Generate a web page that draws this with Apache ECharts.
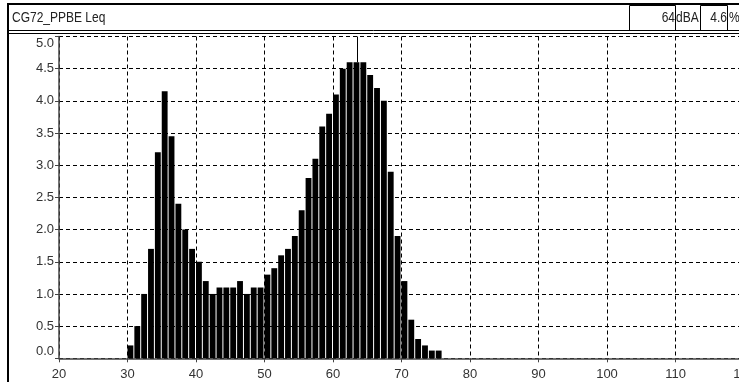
<!DOCTYPE html>
<html>
<head>
<meta charset="utf-8">
<script src="https://cdn.jsdelivr.net/npm/echarts@6/dist/echarts.min.js"></script>
<style>
html,body{margin:0;padding:0;background:#fff;}
#chart{width:739px;height:382px;}
</style>
</head>
<body>
<div id="chart"></div>
<script>
// Histogram bins (dBA, lower edge) and percentages
var binStarts = [30,31,32,33,34,35,36,37,38,39,40,41,42,43,44,45,46,47,48,49,50,51,52,53,54,55,56,57,58,59,60,61,62,63,64,65,66,67,68,69,70,71,72,73,74,75];
var percents  = [0.2,0.5,1.0,1.7,3.2,4.15,3.45,2.4,2.0,1.7,1.5,1.2,1.0,1.1,1.1,1.1,1.2,1.0,1.1,1.1,1.3,1.4,1.6,1.7,1.9,2.3,2.8,3.1,3.6,3.8,4.1,4.5,4.6,4.6,4.6,4.4,4.2,4.0,2.9,1.9,1.2,0.6,0.3,0.2,0.12,0.12];
var xTicks = [20,30,40,50,60,70,80,90,100,110,120];
var yTicks = [0.0,0.5,1.0,1.5,2.0,2.5,3.0,3.5,4.0,4.5,5.0];
var titleText = 'CG72_PPBE Leq';
var markerLevel = 63.5;   // cursor position on the x scale
var markerValue = '64';
var markerUnit = 'dBA';
var markerPct = '4.6';

var FONT = '"Liberation Sans Narrow","Liberation Sans",Arial,sans-serif';
var data = binStarts.map(function(b,i){return [b, percents[i]];});

var chart = echarts.init(document.getElementById('chart'));
chart.setOption({
  animation:false,
  backgroundColor:'#fff',
  grid:{left:59, top:36.5, right:-5, bottom:23.7, containLabel:false, outerBoundsMode:'none'},
  xAxis:{
    type:'value', min:xTicks[0], max:xTicks[xTicks.length-1], interval:10,
    axisLine:{show:true, onZero:false, lineStyle:{color:'#444', width:1.5}},
    axisTick:{show:true, length:4, inside:false, lineStyle:{color:'#444'}},
    axisLabel:{color:'#333', fontFamily:FONT, fontSize:13, margin:10, hideOverlap:false,
      showMaxLabel:true, formatter:function(v){return String(v);}},
    splitLine:{show:true, lineStyle:{color:'#000', type:[4,3], width:1}}
  },
  yAxis:{
    type:'value', min:yTicks[0], max:yTicks[yTicks.length-1], interval:0.5,
    axisLine:{show:true, lineStyle:{color:'#444', width:1.5}},
    axisTick:{show:true, length:4, lineStyle:{color:'#444'}},
    axisLabel:{color:'#333', fontFamily:FONT, fontSize:13, margin:5,
      formatter:function(v){return v.toFixed(1);},
      verticalAlignMaxLabel:'top', verticalAlignMinLabel:'bottom'},
    splitLine:{show:true, lineStyle:{color:'#000', type:[4,3], width:1}}
  },
  series:[{
    type:'custom',
    data:data,
    encode:{x:0, y:1},
    renderItem:function(params, api){
      var x0 = api.value(0), v = api.value(1);
      var p0 = api.coord([x0, 0]);
      var p1 = api.coord([x0 + 1, v]);
      return {type:'rect',
        shape:{x:p0[0], y:p1[1], width:p1[0]-p0[0]-1, height:p0[1]-p1[1]},
        style:{fill:'#000'}};
    },
    markLine:{
      silent:true, symbol:['none','none'], animation:false,
      label:{show:false},
      lineStyle:{color:'#000', width:1, type:'solid'},
      data:[[{coord:[markerLevel, 4.6]},{coord:[markerLevel, 5.0]}]]
    }
  }],
  graphic:[
    {type:'rect', shape:{x:8, y:4, width:740, height:400}, style:{fill:null, stroke:'#000', lineWidth:2}, silent:true},
    {type:'line', shape:{x1:8, y1:30.5, x2:739, y2:30.5}, style:{stroke:'#000', lineWidth:1}},
    {type:'line', shape:{x1:8, y1:33.5, x2:739, y2:33.5}, style:{stroke:'#000', lineWidth:1}},
    {type:'text', x:12, y:18, scaleX:0.8, style:{text:titleText, font:'15px '+FONT, fill:'#222', verticalAlign:'middle'}},
    {type:'rect', shape:{x:629.5, y:5.5, width:46, height:25}, style:{fill:null, stroke:'#000', lineWidth:1}},
    {type:'text', x:675, y:18, scaleX:0.8, style:{text:markerValue, font:'15px '+FONT, fill:'#222', align:'right', verticalAlign:'middle'}},
    {type:'text', x:676, y:18, scaleX:0.8, style:{text:markerUnit, font:'15px '+FONT, fill:'#222', align:'left', verticalAlign:'middle'}},
    {type:'rect', shape:{x:700.5, y:5.5, width:27, height:25}, style:{fill:null, stroke:'#000', lineWidth:1}},
    {type:'text', x:727, y:18, scaleX:0.8, style:{text:markerPct, font:'15px '+FONT, fill:'#222', align:'right', verticalAlign:'middle'}},
    {type:'text', x:729, y:18, scaleX:0.8, style:{text:'%', font:'15px '+FONT, fill:'#222', align:'left', verticalAlign:'middle'}}
  ]
});
</script>
</body>
</html>
